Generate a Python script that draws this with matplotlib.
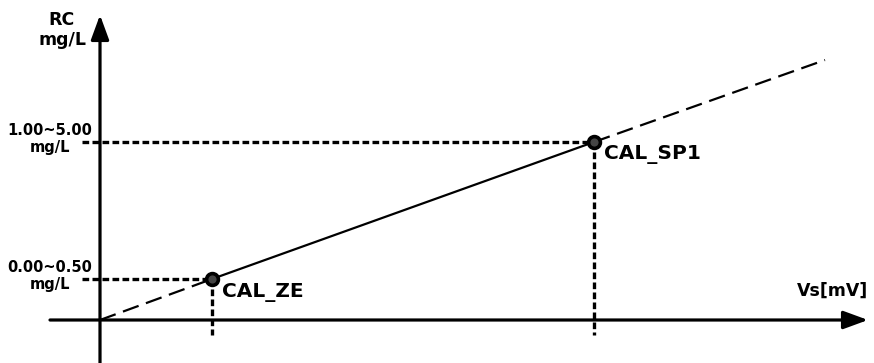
import matplotlib.pyplot as plt

# calibration points (diagram units, origin at the axis crossing)
cal_names = ["CAL_ZE", "CAL_SP1"]
cal_vs = [112, 494]
cal_rc = [41, 178]
range_labels = ["0.00~0.50\nmg/L", "1.00~5.00\nmg/L"]
line_end = [725, 260]

fig = plt.figure(figsize=(8.74, 3.63), dpi=100)
ax = fig.add_axes([0, 0, 1, 1])
ax.set_xlim(-100, 774)
ax.set_ylim(-43, 320)
ax.axis('off')

fs = dict(fontweight='bold', color='black')

# axes with arrows
arr = dict(arrowstyle='-|>,head_length=0.6,head_width=0.22', lw=2.3,
           color='black', mutation_scale=25, shrinkA=0, shrinkB=0)
ax.annotate('', xy=(768, 0), xytext=(-50, 0), arrowprops=arr)
ax.annotate('', xy=(0, 305), xytext=(0, -43), arrowprops=arr)

# calibration line: dashed outside the points, solid between
ax.plot([0, cal_vs[0]], [0, cal_rc[0]], color='black', lw=1.6,
        linestyle=(0, (7.5, 3.5)))
ax.plot(cal_vs, cal_rc, color='black', lw=1.6)
ax.plot([cal_vs[1], line_end[0]], [cal_rc[1], line_end[1]], color='black',
        lw=1.6, linestyle=(0, (7.5, 3.5)))

# dotted guide lines
for vx, ry in zip(cal_vs, cal_rc):
    ax.plot([-18, vx], [ry, ry], color='black', lw=2.4,
            linestyle=(0, (2.0, 1.0)))
    ax.plot([vx, vx], [ry, -15], color='black', lw=2.4,
            linestyle=(0, (2.0, 1.0)))

ax.plot(cal_vs, cal_rc, 'o', ms=8.5, mfc='#444444', mec='black', mew=2.6)

# labels
for vx, ry, name, rl in zip(cal_vs, cal_rc, cal_names, range_labels):
    ax.text(vx + 10, ry - 13, name, fontsize=14.5, ha='left', va='center', **fs)
    ax.text(-50, ry + 3, rl, fontsize=10.5, ha='center', va='center',
            linespacing=1.1, **fs)

ax.text(-38, 290, "RC\nmg/L", fontsize=12.5, ha='center', va='center',
        linespacing=1.1, **fs)
ax.text(768, 29, "Vs[mV]", fontsize=12.5, ha='right', va='center', **fs)

fig.savefig('out.png', dpi=100)
